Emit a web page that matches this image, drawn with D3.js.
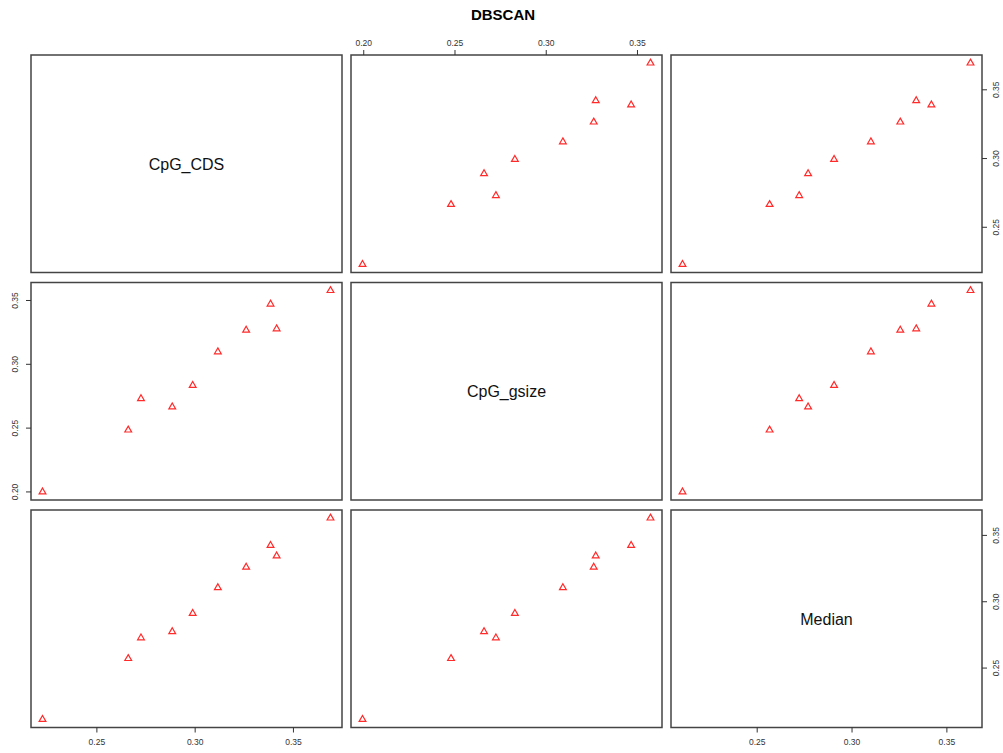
<!DOCTYPE html>
<html>
<head>
<meta charset="utf-8">
<script src="https://cdn.jsdelivr.net/npm/d3@7"></script>
<style>
  html, body { margin: 0; padding: 0; background: #fff; }
  svg { display: block; font-family: "Liberation Sans", Arial, Helvetica, sans-serif; }
</style>
</head>
<body>
<svg id="chart" width="1003" height="753"></svg>
<script>
// Scatterplot matrix of the three CpG measures (DBSCAN groups)
const variables = ["CpG_CDS", "CpG_gsize", "Median"];
const cpgCDS   = [0.2226, 0.2662, 0.2727, 0.2886, 0.2990, 0.3118, 0.3262, 0.3386, 0.3417, 0.3691];
const cpgGsize = [0.1996, 0.2481, 0.2727, 0.2662, 0.2831, 0.3094, 0.3263, 0.3468, 0.3274, 0.3574];
const median   = [0.2109, 0.2568, 0.2724, 0.2771, 0.2908, 0.3102, 0.3257, 0.3421, 0.3341, 0.3627];
const tickValues = [0.20, 0.25, 0.30, 0.35];
const title = "DBSCAN";

const columns = [cpgCDS, cpgGsize, median];

const svg = d3.select("#chart");
const panelW = 311, panelH = 217.5;
const panelX = i => 31 + i * 320;
const panelY = j => 55 + j * 227.5;

// Each variable gets a 4% padded linear domain
const domains = columns.map(v => {
  const [lo, hi] = d3.extent(v);
  const pad = (hi - lo) * 0.04;
  return [lo - pad, hi + pad];
});
const xScales = domains.map((d, i) => d3.scaleLinear().domain(d).range([panelX(i), panelX(i) + panelW]));
const yScales = domains.map((d, j) => d3.scaleLinear().domain(d).range([panelY(j) + panelH, panelY(j)]));
const ticksFor = i => tickValues.filter(t => t >= domains[i][0] && t <= domains[i][1]);
const fmt = d3.format(".2f");

svg.append("text")
  .attr("x", 503).attr("y", 20)
  .attr("text-anchor", "middle")
  .attr("font-size", 15).attr("font-weight", "bold")
  .attr("fill", "#000")
  .text(title);

const triangle = d3.symbol().type(d3.symbolTriangle).size(20);

for (let j = 0; j < 3; j++) {
  for (let i = 0; i < 3; i++) {
    const g = svg.append("g");
    if (i === j) {
      g.append("text")
        .attr("x", panelX(i) + panelW / 2)
        .attr("y", panelY(j) + panelH / 2 + 6)
        .attr("text-anchor", "middle")
        .attr("font-size", 16)
        .attr("fill", "#111")
        .text(variables[i]);
    } else {
      const xs = columns[i], ys = columns[j];
      g.selectAll("path.pt")
        .data(xs.map((x, k) => [x, ys[k]]))
        .join("path")
        .attr("class", "pt")
        .attr("d", triangle)
        .attr("transform", d => `translate(${xScales[i](d[0])},${yScales[j](d[1])})`)
        .attr("fill", "none")
        .attr("stroke", "#ff2a2a")
        .attr("stroke-width", 1.2);
    }
    g.append("rect")
      .attr("x", panelX(i)).attr("y", panelY(j))
      .attr("width", panelW).attr("height", panelH)
      .attr("fill", "none")
      .attr("stroke", "#444")
      .attr("stroke-width", 1.5);
  }
}

function styleAxis(sel) {
  sel.select(".domain").remove();
  sel.selectAll(".tick line").attr("stroke", "#333");
  sel.selectAll(".tick text").attr("fill", "#333").attr("font-size", 8.5)
    .attr("font-family", "Liberation Sans, Arial, sans-serif");
}

// Top axis: column 2
svg.append("g")
  .attr("transform", `translate(0,${panelY(0)})`)
  .call(d3.axisTop(xScales[1]).tickValues(ticksFor(1)).tickFormat(fmt).tickSize(5).tickPadding(4))
  .call(styleAxis);

// Bottom axes: columns 1 and 3
[0, 2].forEach(i => {
  svg.append("g")
    .attr("transform", `translate(0,${panelY(2) + panelH})`)
    .call(d3.axisBottom(xScales[i]).tickValues(ticksFor(i)).tickFormat(fmt).tickSize(5).tickPadding(6))
    .call(styleAxis);
});

// Left axis: row 2, labels read bottom to top
svg.append("g")
  .attr("transform", `translate(${panelX(0)},0)`)
  .call(d3.axisLeft(yScales[1]).tickValues(ticksFor(1)).tickFormat(fmt).tickSize(5))
  .call(styleAxis)
  .call(a => a.selectAll(".tick text")
    .attr("x", 0).attr("dy", 0)
    .attr("text-anchor", "middle")
    .attr("transform", "translate(-13,0) rotate(-90)"));

// Right axes: rows 1 and 3
[0, 2].forEach(j => {
  svg.append("g")
    .attr("transform", `translate(${panelX(2) + panelW},0)`)
    .call(d3.axisRight(yScales[j]).tickValues(ticksFor(j)).tickFormat(fmt).tickSize(5))
    .call(styleAxis)
    .call(a => a.selectAll(".tick text")
      .attr("x", 0).attr("dy", 0)
      .attr("text-anchor", "middle")
      .attr("transform", "translate(17,0) rotate(-90)"));
});
</script>
</body>
</html>
